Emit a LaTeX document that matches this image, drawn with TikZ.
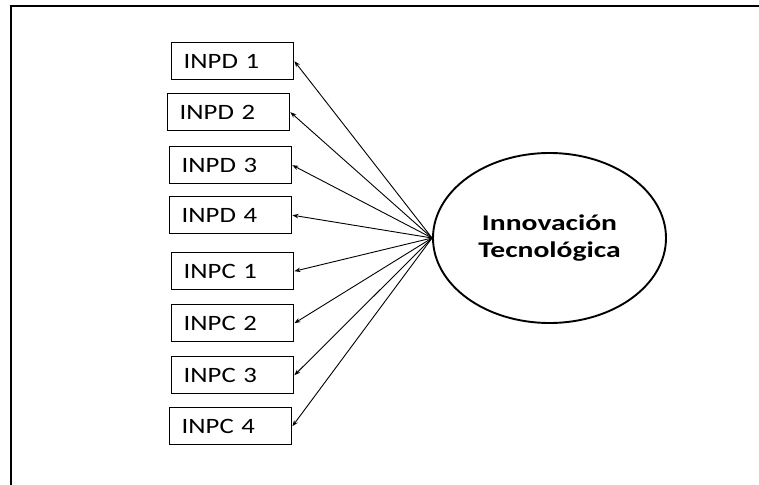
\documentclass[tikz,border=0pt]{standalone}
\usepackage{fontspec}
\setmainfont{Carlito}
\usetikzlibrary{arrows.meta,shapes.geometric}
\newcommand{\wide}[2]{\scalebox{#1}[1]{#2}}
\begin{document}
\begin{tikzpicture}[x=1bp,y=-1bp,
  frame/.style={line width=2.2bp,draw=black},
  itembox/.style={draw=black,line width=1.4bp,rectangle,minimum height=37bp,
    text width=98bp,inner xsep=12bp,inner ysep=0bp,align=left,anchor=north west,
    font=\fontsize{22}{24}\selectfont},
  latent/.style={draw=black,line width=1.9bp,ellipse,minimum width=233bp,minimum height=170bp,
    inner sep=0bp,align=center,font=\fontsize{22.5}{28}\selectfont\bfseries},
  link/.style={line width=0.9bp,-{Stealth[length=6bp,width=4.5bp]}}]
\useasboundingbox (0,0) rectangle (759,485);
% partial frame: top and left edges only
\draw[frame] (11,485) -- (11,6) -- (759,6);
% indicator boxes
\node[itembox] (d1) at (171,42) {\wide{1.22}{INPD\kern-1bp\ 1}};
\node[itembox] (d2) at (167,93) {\wide{1.22}{INPD\kern-1bp\ 2}};
\node[itembox] (d3) at (169,146) {\wide{1.22}{INPD\kern-1bp\ 3}};
\node[itembox] (d4) at (169,196) {\wide{1.22}{INPD\kern-1bp\ 4}};
\node[itembox] (c1) at (171,252) {\wide{1.22}{INPC\kern-1bp\ 1}};
\node[itembox] (c2) at (171,304) {\wide{1.22}{INPC\kern-1bp\ 2}};
\node[itembox] (c3) at (171,356) {\wide{1.22}{INPC\kern-1bp\ 3}};
\node[itembox] (c4) at (169,407) {\wide{1.22}{INPC\kern-1bp\ 4}};
% latent construct
\node[latent] (it) at (549.5,238) {\wide{1.32}{Innovación}\\\wide{1.32}{Tecnológica}};
% loadings
\foreach \t in {d1,d2,d3,d4,c1,c2,c3,c4}
  \draw[link] (it.west) -- (\t.east);
\end{tikzpicture}
\end{document}
